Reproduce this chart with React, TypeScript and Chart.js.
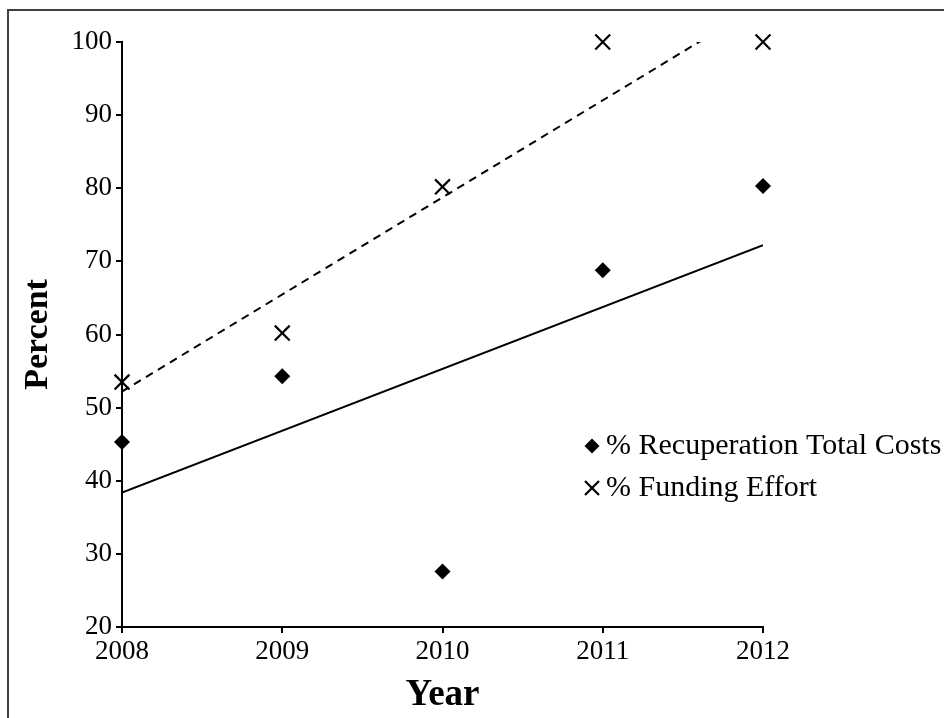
import React, { useEffect, useRef } from "react";
import { Chart, registerables } from "chart.js";

Chart.register(...registerables);

const years = [2008, 2009, 2010, 2011, 2012];
const yearLabels = ["2008", "2009", "2010", "2011", "2012"];
const recuperation = [45.3, 54.3, 27.6, 68.8, 80.3];
const funding = [53.5, 60.2, 80.2, 100, 100];
const trendYears = [2008, 2012];
const recuperationTrend = [38.4, 72.2];
const fundingTrend = [52.2, 105.3];
const yTicks = [20, 30, 40, 50, 60, 70, 80, 90, 100];
const legendLabels = ["% Recuperation Total Costs", "% Funding Effort"];

const SERIF = "'Liberation Serif', 'Times New Roman', serif";

const framePlugin = {
  id: "frame",
  beforeDraw(chart: any) {
    const ctx = chart.ctx;
    ctx.save();
    ctx.fillStyle = "#ffffff";
    ctx.fillRect(0, 0, chart.width, chart.height);
    ctx.strokeStyle = "#404040";
    ctx.lineWidth = 2;
    ctx.beginPath();
    ctx.moveTo(8, chart.height);
    ctx.lineTo(8, 10);
    ctx.lineTo(chart.width, 10);
    ctx.stroke();
    ctx.restore();
  },
};

const legendPlugin = {
  id: "customLegend",
  afterDraw(chart: any) {
    const ctx = chart.ctx;
    const x0 = 592;
    const rows = [446, 488];
    ctx.save();
    ctx.fillStyle = "#000";
    ctx.strokeStyle = "#000";
    // diamond
    ctx.beginPath();
    const r = 7.5;
    ctx.moveTo(x0 - r, rows[0]);
    ctx.lineTo(x0, rows[0] - r);
    ctx.lineTo(x0 + r, rows[0]);
    ctx.lineTo(x0, rows[0] + r);
    ctx.closePath();
    ctx.fill();
    // cross
    const c = 7;
    ctx.lineWidth = 2.2;
    ctx.beginPath();
    ctx.moveTo(x0 - c, rows[1] - c);
    ctx.lineTo(x0 + c, rows[1] + c);
    ctx.moveTo(x0 + c, rows[1] - c);
    ctx.lineTo(x0 - c, rows[1] + c);
    ctx.stroke();
    ctx.font = `30px ${SERIF}`;
    ctx.textBaseline = "middle";
    ctx.textAlign = "left";
    ctx.fillText(legendLabels[0], 606, rows[0]);
    ctx.fillText(legendLabels[1], 606, rows[1]);
    ctx.restore();
  },
};

export default function App() {
  const ref = useRef<HTMLCanvasElement | null>(null);

  useEffect(() => {
    if (!ref.current) return;
    const chart = new Chart(ref.current, {
      type: "scatter",
      data: {
        datasets: [
          {
            label: legendLabels[0],
            data: years.map((x, i) => ({ x, y: recuperation[i] })),
            pointStyle: "rectRot",
            pointRadius: 8,
            backgroundColor: "#000",
            borderColor: "#000",
            borderWidth: 0,
            clip: false as any,
            order: 1,
          },
          {
            label: legendLabels[1],
            data: years.map((x, i) => ({ x, y: funding[i] })),
            pointStyle: "crossRot",
            pointRadius: 10.5,
            borderColor: "#000",
            backgroundColor: "#000",
            borderWidth: 2.2,
            clip: false as any,
            order: 1,
          },
          {
            type: "line" as any,
            label: "trend1",
            data: trendYears.map((x, i) => ({ x, y: recuperationTrend[i] })),
            borderColor: "#000",
            borderWidth: 2,
            pointRadius: 0,
            showLine: true,
            fill: false,
            order: 2,
          },
          {
            type: "line" as any,
            label: "trend2",
            data: trendYears.map((x, i) => ({ x, y: fundingTrend[i] })),
            borderColor: "#000",
            borderWidth: 2,
            borderDash: [8, 6],
            pointRadius: 0,
            showLine: true,
            fill: false,
            order: 2,
          },
        ] as any,
      },
      options: {
        responsive: false,
        animation: false,
        layout: { padding: { left: 0, right: 181, top: 42, bottom: 0 } },
        plugins: {
          legend: { display: false },
          tooltip: { enabled: false },
        },
        scales: {
          x: {
            type: "linear",
            min: years[0],
            max: years[years.length - 1],
            afterFit: (s: any) => {
              s.height = 91;
            },
            afterBuildTicks: (s: any) => {
              s.ticks = years.map((v) => ({ value: v }));
            },
            ticks: {
              callback: (v: any) => {
                const i = years.indexOf(Number(v));
                return i >= 0 ? yearLabels[i] : "";
              },
              font: { family: SERIF, size: 27 },
              color: "#000",
              padding: 3,
              maxRotation: 0,
              autoSkip: false,
            },
            grid: {
              drawOnChartArea: false,
              drawTicks: true,
              tickLength: 6,
              color: "#000",
              lineWidth: 2,
            },
            border: { display: true, color: "#000", width: 2 },
            title: {
              display: true,
              text: "Year",
              font: { family: SERIF, size: 37, weight: "bold" },
              color: "#000",
              padding: { top: 0, bottom: 0 },
            },
          },
          y: {
            type: "linear",
            min: yTicks[0],
            max: yTicks[yTicks.length - 1],
            afterFit: (s: any) => {
              s.width = 122;
            },
            afterBuildTicks: (s: any) => {
              s.ticks = yTicks.map((v) => ({ value: v }));
            },
            ticks: {
              callback: (v: any) => String(v),
              font: { family: SERIF, size: 27 },
              color: "#000",
              padding: 4,
              autoSkip: false,
            },
            grid: {
              drawOnChartArea: false,
              drawTicks: true,
              tickLength: 6,
              color: "#000",
              lineWidth: 2,
            },
            border: { display: true, color: "#000", width: 2 },
            title: {
              display: true,
              text: "Percent",
              font: { family: SERIF, size: 34, weight: "bold" },
              color: "#000",
              padding: { top: 18, bottom: 0 },
            },
          },
        },
      },
      plugins: [framePlugin, legendPlugin],
    });
    return () => chart.destroy();
  }, []);

  return (
    <div style={{ position: "absolute", left: 0, top: 0, width: 944, height: 718 }}>
      <canvas ref={ref} width={944} height={718} style={{ display: "block" }} />
    </div>
  );
}
